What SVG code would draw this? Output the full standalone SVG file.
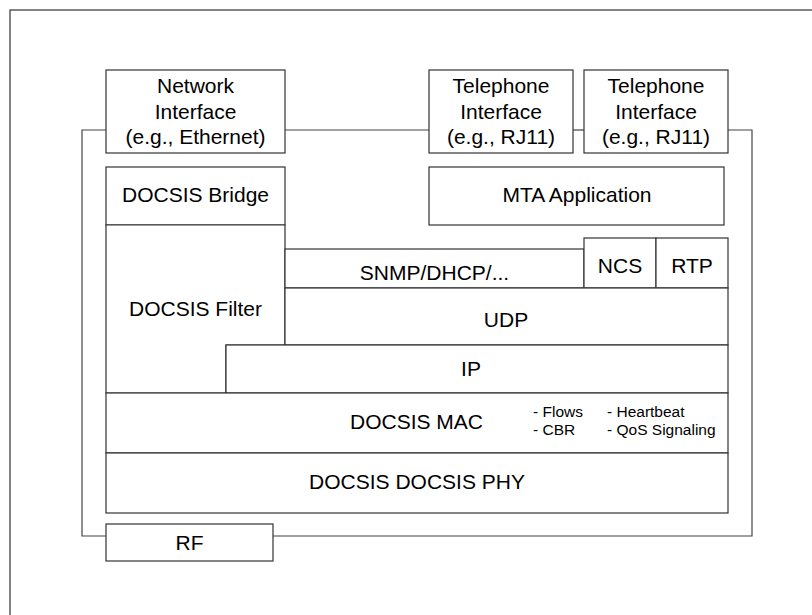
<svg xmlns="http://www.w3.org/2000/svg" width="812" height="615" viewBox="0 0 812 615">
<style>
.b{fill:#fff;stroke:#333;stroke-width:1.2}
.l{fill:none;stroke:#444;stroke-width:1.2}
.t{font-family:"Liberation Sans",Arial,sans-serif;font-size:21px;fill:#000;text-anchor:middle}
.s{font-family:"Liberation Sans",Arial,sans-serif;font-size:15.5px;fill:#000}
</style>
<rect x="10" y="10" width="830" height="640" fill="#fff" stroke="#333" stroke-width="1.2"/>
<g id="connectors">
<polyline class="l" points="106,130 82,130 82,536 106,536"/>
<line class="l" x1="285" y1="130" x2="429" y2="130"/>
<line class="l" x1="573" y1="130" x2="584" y2="130"/>
<polyline class="l" points="728,130 752,130 752,536 273,536"/>
</g>
<g id="net-if">
<rect class="b" x="106" y="70" width="179" height="83"/>
<text class="t" x="195.5" y="93">Network</text>
<text class="t" x="195.5" y="119">Interface</text>
<text class="t" x="195.5" y="144">(e.g., Ethernet)</text>
</g>
<g id="tel-if-1">
<rect class="b" x="429" y="70" width="144" height="83"/>
<text class="t" x="501" y="93">Telephone</text>
<text class="t" x="501" y="119">Interface</text>
<text class="t" x="501" y="144">(e.g., RJ11)</text>
</g>
<g id="tel-if-2">
<rect class="b" x="584" y="70" width="144" height="83"/>
<text class="t" x="656" y="93">Telephone</text>
<text class="t" x="656" y="119">Interface</text>
<text class="t" x="656" y="144">(e.g., RJ11)</text>
</g>
<g id="docsis-bridge">
<rect class="b" x="106" y="167" width="179" height="58"/>
<text class="t" x="195.5" y="202">DOCSIS Bridge</text>
</g>
<g id="mta-app">
<rect class="b" x="429" y="167" width="295" height="58"/>
<text class="t" x="577" y="202">MTA Application</text>
</g>
<g id="docsis-filter">
<polygon class="b" points="106,225 285,225 285,345 226,345 226,393 106,393"/>
<text class="t" x="195.5" y="316">DOCSIS Filter</text>
</g>
<g id="snmp">
<rect class="b" x="285" y="249" width="299" height="39"/>
<text class="t" x="434.5" y="280">SNMP/DHCP/...</text>
</g>
<g id="ncs">
<rect class="b" x="584" y="238" width="72" height="50"/>
<text class="t" x="620" y="273">NCS</text>
</g>
<g id="rtp">
<rect class="b" x="656" y="238" width="72" height="50"/>
<text class="t" x="692" y="273">RTP</text>
</g>
<g id="udp">
<rect class="b" x="285" y="288" width="443" height="57"/>
<text class="t" x="506" y="327">UDP</text>
</g>
<g id="ip">
<rect class="b" x="226" y="345" width="502" height="48"/>
<text class="t" x="471" y="376">IP</text>
</g>
<g id="docsis-mac">
<rect class="b" x="106" y="393" width="622" height="60"/>
<text class="t" x="416.5" y="429">DOCSIS MAC</text>
<text class="s" x="533" y="417">- Flows</text>
<text class="s" x="533" y="435">- CBR</text>
<text class="s" x="607" y="417">- Heartbeat</text>
<text class="s" x="607" y="435">- QoS Signaling</text>
</g>
<g id="docsis-phy">
<rect class="b" x="106" y="453" width="622" height="60"/>
<text class="t" x="417" y="489">DOCSIS DOCSIS PHY</text>
</g>
<g id="rf">
<rect class="b" x="106" y="524" width="167" height="37"/>
<text class="t" x="189.5" y="550">RF</text>
</g>
</svg>
